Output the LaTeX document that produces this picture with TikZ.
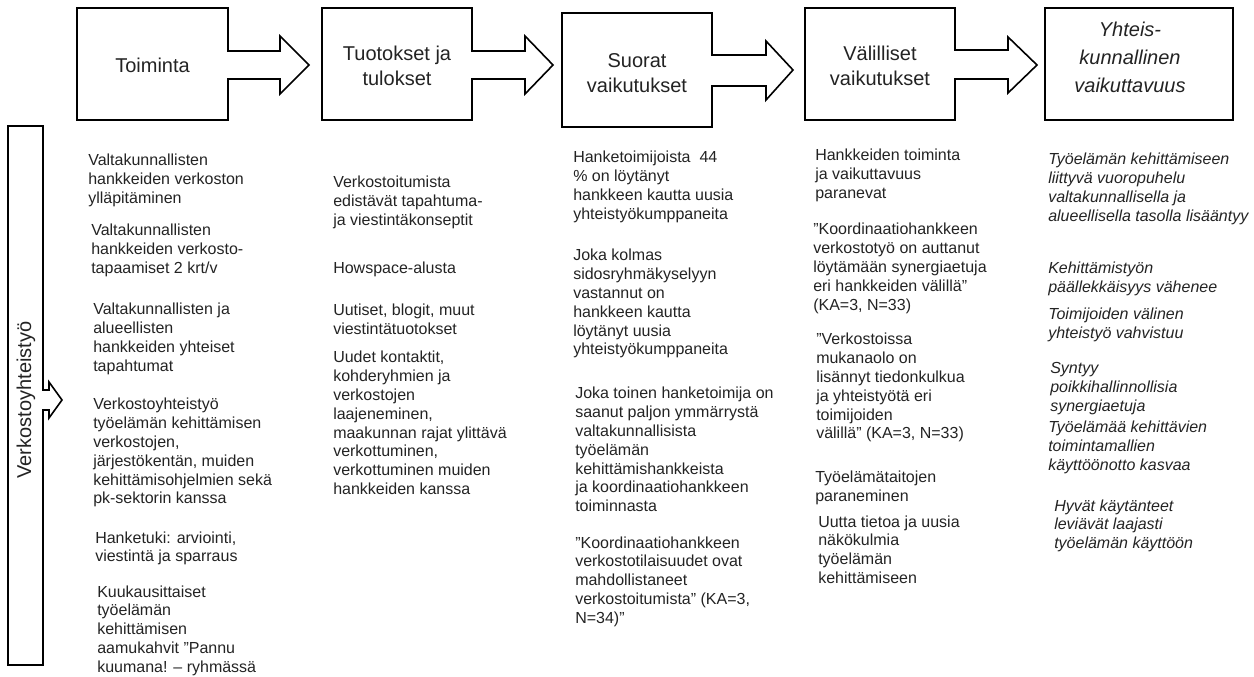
\documentclass[tikz,border=0pt]{standalone}
\usepackage{fontspec}
\setmainfont{Liberation Sans}
\definecolor{ink}{RGB}{35,35,35}
\newcommand\ptext[1]{\begin{tabular}[t]{@{}l@{}}#1\end{tabular}}
\renewcommand\arraystretch{1}
\tikzset{
  blk/.style={draw=black, line width=1.2pt, line join=miter, fill=white},
  ttl/.style={font=\fontsize{15}{18.75}\selectfont, align=center, inner sep=0pt, text=ink},
  ttli/.style={font=\fontsize{15}{21}\selectfont\itshape, align=center, inner sep=0pt, text=ink},
  txt/.style={font=\fontsize{12}{14.1}\selectfont, inner sep=0pt, anchor=base west, text=ink},
  txti/.style={txt, font=\fontsize{12}{14.1}\selectfont\itshape}
}
\begin{document}
\begin{tikzpicture}[x=0.75pt, y=-0.75pt]
\useasboundingbox (0,0) rectangle (1254,677);
% top block arrows
\draw[blk] (77,8) -- (228,8) -- (228,51) -- (280,51) -- (280,36) -- (309,65) -- (280,94) -- (280,79) -- (228,79) -- (228,120) -- (77,120) -- cycle;
\draw[blk] (322,8) -- (472,8) -- (472,51) -- (525,51) -- (525,36) -- (553,65) -- (525,94) -- (525,79) -- (472,79) -- (472,120) -- (322,120) -- cycle;
\draw[blk] (562,13) -- (712,13) -- (712,55) -- (766,55) -- (766,41) -- (793,70) -- (766,100) -- (766,86) -- (712,86) -- (712,127) -- (562,127) -- cycle;
\draw[blk] (805,8) -- (955,8) -- (955,50) -- (1008,50) -- (1008,37) -- (1037,65) -- (1008,93) -- (1008,79) -- (955,79) -- (955,120) -- (805,120) -- cycle;
\draw[blk] (1045,8) rectangle (1233,120);
% left vertical block arrow
\draw[blk] (8,126) -- (43,126) -- (43,390) -- (49,390) -- (49,382) -- (62,400) -- (49,418) -- (49,410) -- (43,410) -- (43,665) -- (8,665) -- cycle;

\node[ttl] (t1) at (152.5,65) {Toiminta};
\node[ttl] (t2) at (397,66) {Tuotokset ja\\tulokset};
\node[ttl] (t3) at (637,73) {Suorat\\vaikutukset};
\node[ttl] (t4) at (880,66) {Välilliset\\vaikutukset};
\node[ttli] (t5) at (1130,57) {Yhteis-\\kunnallinen\\vaikuttavuus};
\node[ttl, rotate=90] (tv) at (26,400) {Verkostoyhteistyö};

% column 1
\node[txt] (a1) at (88,166) {\ptext{Valtakunnallisten\\hankkeiden verkoston\\ylläpitäminen}};
\node[txt] (a2) at (91,236) {\ptext{Valtakunnallisten\\hankkeiden verkosto-\\tapaamiset 2 krt/v}};
\node[txt] (a3) at (93,315) {\ptext{Valtakunnallisten ja\\alueellisten\\hankkeiden yhteiset\\tapahtumat}};
\node[txt] (a4) at (93,410) {\ptext{Verkostoyhteistyö\\työelämän kehittämisen\\verkostojen,\\järjestökentän, muiden\\kehittämisohjelmien sekä\\pk-sektorin kanssa}};
\node[txt] (a5) at (95,543) {\ptext{Hanketuki: arviointi,\\viestintä ja sparraus}};
\node[txt] (a6) at (97,597) {\ptext{Kuukausittaiset\\työelämän\\kehittämisen\\aamukahvit ”Pannu\\kuumana! – ryhmässä}};

% column 2
\node[txt] (b1) at (333,188) {\ptext{Verkostoitumista\\edistävät tapahtuma-\\ja viestintäkonseptit}};
\node[txt] (b2) at (333,274) {\ptext{Howspace-alusta}};
\node[txt] (b3) at (333,316) {\ptext{Uutiset, blogit, muut\\viestintätuotokset}};
\node[txt] (b4) at (333,363) {\ptext{Uudet kontaktit,\\kohderyhmien ja\\verkostojen\\laajeneminen,\\maakunnan rajat ylittävä\\verkottuminen,\\verkottuminen muiden\\hankkeiden kanssa}};

% column 3
\node[txt] (c1) at (573,163) {\ptext{Hanketoimijoista\ \ 44\\\% on löytänyt\\hankkeen kautta uusia\\yhteistyökumppaneita}};
\node[txt] (c2) at (573,261) {\ptext{Joka kolmas\\sidosryhmäkyselyyn\\vastannut on\\hankkeen kautta\\löytänyt uusia\\yhteistyökumppaneita}};
\node[txt] (c3) at (575,399) {\ptext{Joka toinen hanketoimija on\\saanut paljon ymmärrystä\\valtakunnallisista\\työelämän\\kehittämishankkeista\\ja koordinaatiohankkeen\\toiminnasta}};
\node[txt] (c4) at (575,548) {\ptext{”Koordinaatiohankkeen\\verkostotilaisuudet ovat\\mahdollistaneet\\verkostoitumista” (KA=3,\\N=34)”}};

% column 4
\node[txt] (d1) at (815,161) {\ptext{Hankkeiden toiminta\\ja vaikuttavuus\\paranevat}};
\node[txt] (d2) at (813,235) {\ptext{”Koordinaatiohankkeen\\verkostotyö on auttanut\\löytämään synergiaetuja\\eri hankkeiden välillä”\\(KA=3, N=33)}};
\node[txt] (d3) at (816,345) {\ptext{”Verkostoissa\\mukanaolo on\\lisännyt tiedonkulkua\\ja yhteistyötä eri\\toimijoiden\\välillä” (KA=3, N=33)}};
\node[txt] (d4) at (815,483) {\ptext{Työelämätaitojen\\paraneminen}};
\node[txt] (d5) at (818,527) {\ptext{Uutta tietoa ja uusia\\näkökulmia\\työelämän\\kehittämiseen}};

% column 5
\node[txti] (e1) at (1048,165) {\ptext{Työelämän kehittämiseen\\liittyvä vuoropuhelu\\valtakunnallisella ja\\alueellisella tasolla lisääntyy}};
\node[txti] (e2) at (1048,274) {\ptext{Kehittämistyön\\päällekkäisyys vähenee}};
\node[txti] (e3) at (1048,320) {\ptext{Toimijoiden välinen\\yhteistyö vahvistuu}};
\node[txti] (e4) at (1050,374) {\ptext{Syntyy\\poikkihallinnollisia\\synergiaetuja}};
\node[txti] (e5) at (1048,433) {\ptext{Työelämää kehittävien\\toimintamallien\\käyttöönotto kasvaa}};
\node[txti] (e6) at (1054,511) {\ptext{Hyvät käytänteet\\leviävät laajasti\\työelämän käyttöön}};
\end{tikzpicture}
\end{document}
